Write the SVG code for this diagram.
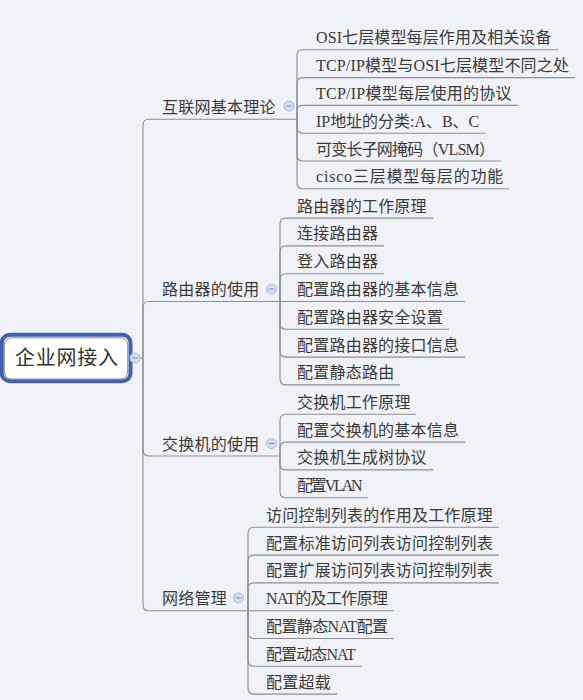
<svg xmlns="http://www.w3.org/2000/svg" width="583" height="700" viewBox="0 0 583 700">
  <style>
    .bg { fill: #f1f2f7; }
    .link { fill: none; stroke: #8e8e8e; stroke-width: 1.1; }
    .t { font-family: "Liberation Serif", "Noto Sans CJK SC", serif; font-size: 16px; fill: #3a3a3a; }
    .root-t { font-family: "Liberation Serif", "Noto Sans CJK SC", serif; font-size: 20px; fill: #333333; }
    .fold circle { fill: #d4def3; stroke: #a9bce4; stroke-width: 1; }
    .fold line { stroke: #7f98cf; stroke-width: 1.2; }
  </style>
  <defs>
    <g id="fold-btn" class="fold">
      <circle cx="0" cy="0" r="5"/>
      <line x1="-2.8" y1="0" x2="2.8" y2="0"/>
    </g>
  </defs>

  <rect class="bg" x="0" y="0" width="583" height="700"/>

  <!-- connectors -->
  <g id="connectors">
    <!-- root to main branches -->
    <path class="link" d="M132 358 H143"/>
    <path class="link" d="M143 358 V125.3 Q143 119.3 149 119.3 H297"/>
    <path class="link" d="M143 358 V307.5 Q143 301.5 149 301.5 H280"/>
    <path class="link" d="M143 358 V450 Q143 456 149 456 H280"/>
    <path class="link" d="M143 358 V604.7 Q143 610.7 149 610.7 H248"/>

    <!-- 互联网基本理论 children -->
    <path class="link" d="M297 119.3 V55.8 Q297 49.8 303 49.8 H558"/>
    <path class="link" d="M297 119.3 V83.6 Q297 77.6 303 77.6 H575"/>
    <path class="link" d="M297 119.3 V111.4 Q297 105.4 303 105.4 H518"/>
    <path class="link" d="M297 119.3 V127.2 Q297 133.2 303 133.2 H485"/>
    <path class="link" d="M297 119.3 V155 Q297 161 303 161 H501"/>
    <path class="link" d="M297 119.3 V182.8 Q297 188.8 303 188.8 H509"/>

    <!-- 路由器的使用 children -->
    <path class="link" d="M280 301.5 V224.1 Q280 218.1 286 218.1 H433"/>
    <path class="link" d="M280 301.5 V251.9 Q280 245.9 286 245.9 H384"/>
    <path class="link" d="M280 301.5 V279.7 Q280 273.7 286 273.7 H384"/>
    <path class="link" d="M280 301.5 H465"/>
    <path class="link" d="M280 301.5 V323.3 Q280 329.3 286 329.3 H449"/>
    <path class="link" d="M280 301.5 V351.1 Q280 357.1 286 357.1 H465"/>
    <path class="link" d="M280 301.5 V378.9 Q280 384.9 286 384.9 H400"/>

    <!-- 交换机的使用 children -->
    <path class="link" d="M280 456 V420.3 Q280 414.3 286 414.3 H416"/>
    <path class="link" d="M280 456 V448.1 Q280 442.1 286 442.1 H465"/>
    <path class="link" d="M280 456 V463.9 Q280 469.9 286 469.9 H433"/>
    <path class="link" d="M280 456 V491.7 Q280 497.7 286 497.7 H368"/>

    <!-- 网络管理 children -->
    <path class="link" d="M248 610.7 V533.3 Q248 527.3 254 527.3 H499"/>
    <path class="link" d="M248 610.7 V561.1 Q248 555.1 254 555.1 H499"/>
    <path class="link" d="M248 610.7 V588.9 Q248 582.9 254 582.9 H499"/>
    <path class="link" d="M248 610.7 H394"/>
    <path class="link" d="M248 610.7 V632.5 Q248 638.5 254 638.5 H394"/>
    <path class="link" d="M248 610.7 V660.3 Q248 666.3 254 666.3 H362"/>
    <path class="link" d="M248 610.7 V688.1 Q248 694.1 254 694.1 H337"/>
  </g>

  <!-- central topic -->
  <g id="root">
    <rect x="1.8" y="334.7" width="128.7" height="46.6" rx="8" fill="#ffffff" stroke="#3e62b1" stroke-width="4"/>
    <rect x="4.3" y="337.8" width="123.4" height="41.2" rx="7" fill="#ffffff" stroke="#8a8a8a" stroke-width="1"/>
    <text class="root-t" x="15" y="365" textLength="103" lengthAdjust="spacing">企业网接入</text>
    <use href="#fold-btn" x="135" y="358"/>
  </g>

  <!-- main branches -->
  <g id="b-theory">
    <text class="t" x="162" y="112.8" textLength="113.4">互联网基本理论</text>
    <use href="#fold-btn" x="289" y="106"/>
  </g>
  <g id="b-router">
    <text class="t" x="162" y="295" textLength="97.2">路由器的使用</text>
    <use href="#fold-btn" x="271.5" y="289"/>
  </g>
  <g id="b-switch">
    <text class="t" x="162" y="449.5" textLength="97.2">交换机的使用</text>
    <use href="#fold-btn" x="271.5" y="443.5"/>
  </g>
  <g id="b-manage">
    <text class="t" x="162" y="604.2" textLength="64.8">网络管理</text>
    <use href="#fold-btn" x="238.5" y="598"/>
  </g>

  <!-- 互联网基本理论 -->
  <g id="n-osi"><text class="t" x="316" y="43.3" textLength="235.5">OSI七层模型每层作用及相关设备</text></g>
  <g id="n-tcp-osi"><text class="t" x="316" y="71.1" textLength="252.9">TCP/IP模型与OSI七层模型不同之处</text></g>
  <g id="n-tcp-proto"><text class="t" x="316" y="98.9" textLength="195.6">TCP/IP模型每层使用的协议</text></g>
  <g id="n-ip-class"><text class="t" x="316" y="126.7" textLength="163.2">IP地址的分类:A、B、C</text></g>
  <g id="n-vlsm"><text class="t" x="316" y="154.5" textLength="179">可变长子网掩码（VLSM）</text></g>
  <g id="n-cisco"><text class="t" x="316" y="182.3" textLength="187.3">cisco三层模型每层的功能</text></g>

  <!-- 路由器的使用 -->
  <g id="n-r1"><text class="t" x="297" y="211.6" textLength="129.6">路由器的工作原理</text></g>
  <g id="n-r2"><text class="t" x="297" y="239.4" textLength="81">连接路由器</text></g>
  <g id="n-r3"><text class="t" x="297" y="267.2" textLength="81">登入路由器</text></g>
  <g id="n-r4"><text class="t" x="297" y="295" textLength="162">配置路由器的基本信息</text></g>
  <g id="n-r5"><text class="t" x="297" y="322.8" textLength="145.8">配置路由器安全设置</text></g>
  <g id="n-r6"><text class="t" x="297" y="350.6" textLength="162">配置路由器的接口信息</text></g>
  <g id="n-r7"><text class="t" x="297" y="378.4" textLength="97.2">配置静态路由</text></g>

  <!-- 交换机的使用 -->
  <g id="n-s1"><text class="t" x="297" y="407.8" textLength="113.4">交换机工作原理</text></g>
  <g id="n-s2"><text class="t" x="297" y="435.6" textLength="162">配置交换机的基本信息</text></g>
  <g id="n-s3"><text class="t" x="297" y="463.4" textLength="129.6">交换机生成树协议</text></g>
  <g id="n-s4"><text class="t" x="297" y="491.2" textLength="65.6">配置VLAN</text></g>

  <!-- 网络管理 -->
  <g id="n-m1"><text class="t" x="266" y="520.8" textLength="226.8">访问控制列表的作用及工作原理</text></g>
  <g id="n-m2"><text class="t" x="266" y="548.6" textLength="226.8">配置标准访问列表访问控制列表</text></g>
  <g id="n-m3"><text class="t" x="266" y="576.4" textLength="226.8">配置扩展访问列表访问控制列表</text></g>
  <g id="n-m4"><text class="t" x="266" y="604.2" textLength="122.1">NAT的及工作原理</text></g>
  <g id="n-m5"><text class="t" x="266" y="632" textLength="122.1">配置静态NAT配置</text></g>
  <g id="n-m6"><text class="t" x="266" y="659.8" textLength="89.7">配置动态NAT</text></g>
  <g id="n-m7"><text class="t" x="266" y="687.6" textLength="64.8">配置超载</text></g>
</svg>
